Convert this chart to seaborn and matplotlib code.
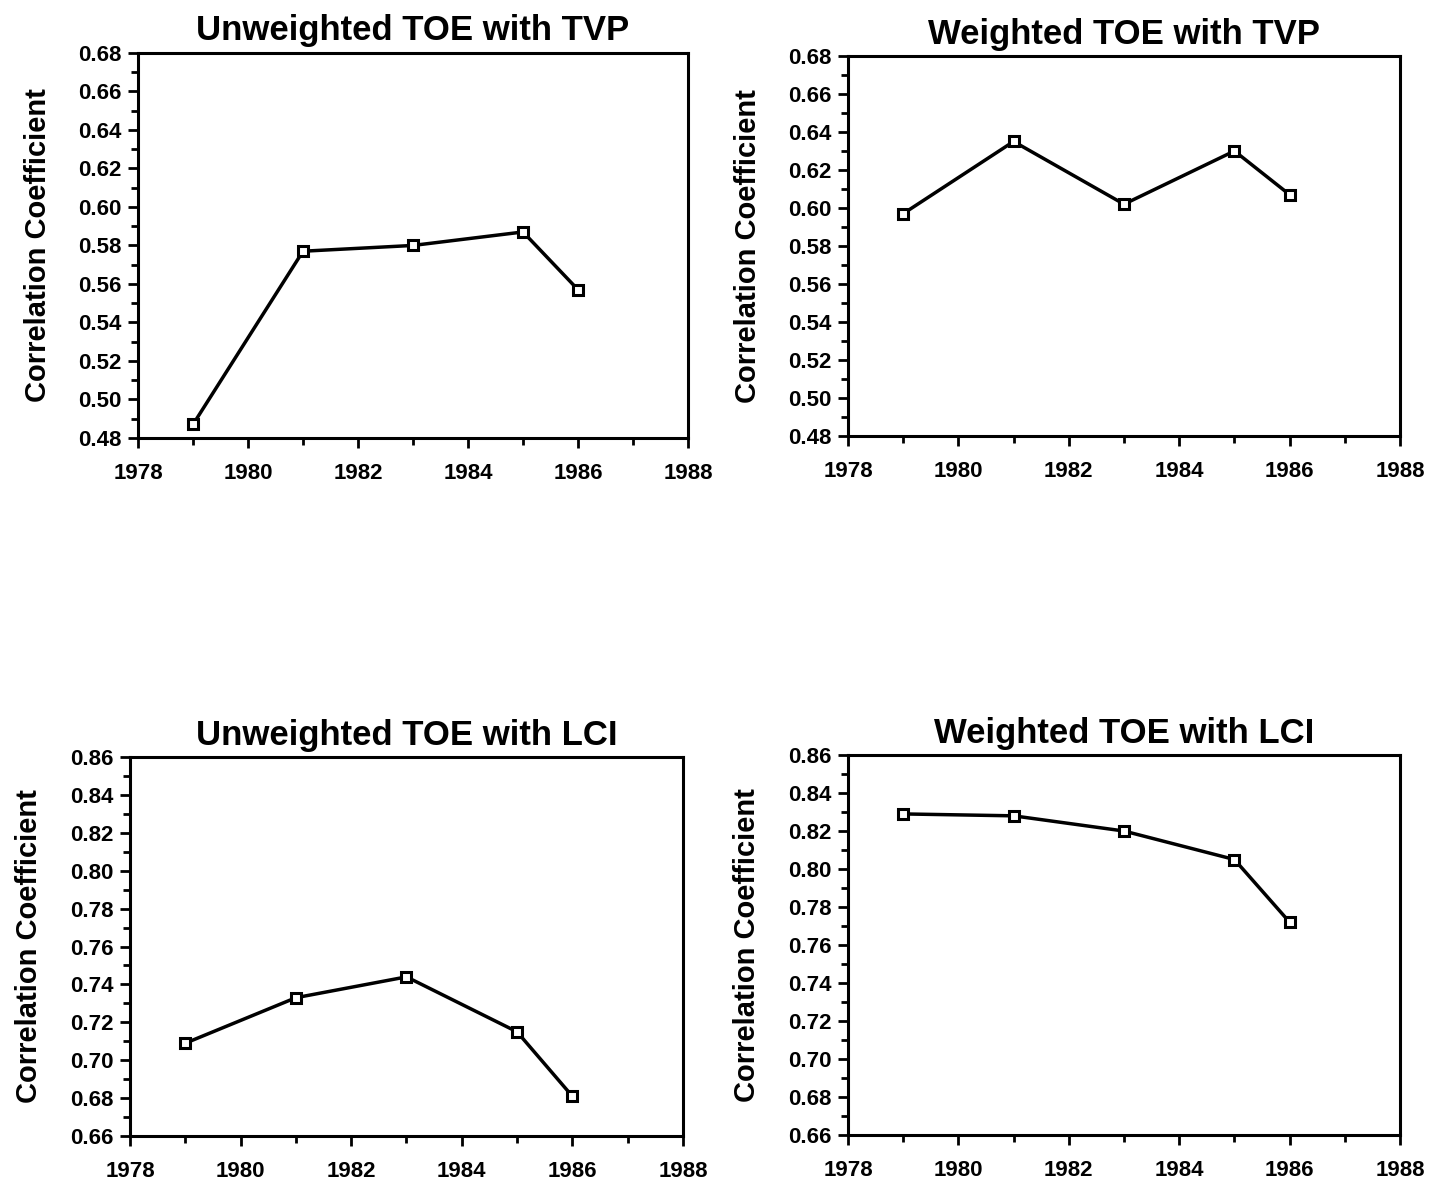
import matplotlib
matplotlib.use("Agg")
import matplotlib.pyplot as plt
from matplotlib.ticker import FormatStrFormatter, MultipleLocator
import numpy as np
import pandas as pd
import seaborn as sns

# Survey years shared by all four panels
years = [1979, 1981, 1983, 1985, 1986]

# Correlation coefficients per panel
unweighted_tvp = [0.487, 0.577, 0.580, 0.587, 0.557]
weighted_tvp = [0.597, 0.635, 0.602, 0.630, 0.607]
unweighted_lci = [0.709, 0.733, 0.744, 0.715, 0.681]
weighted_lci = [0.829, 0.828, 0.820, 0.805, 0.772]

titles = [
    "Unweighted TOE with TVP",
    "Weighted TOE with TVP",
    "Unweighted TOE with LCI",
    "Weighted TOE with LCI",
]
y_label = "Correlation Coefficient"

sns.set_style("ticks")
plt.rcParams["font.family"] = ["Liberation Sans", "DejaVu Sans"]
plt.rcParams["font.weight"] = "bold"
plt.rcParams["text.color"] = "black"
plt.rcParams["axes.labelcolor"] = "black"
plt.rcParams["xtick.color"] = "black"
plt.rcParams["ytick.color"] = "black"
plt.rcParams["axes.edgecolor"] = "black"

fig = plt.figure(figsize=(14.54, 11.84), dpi=100)

# Axes rectangles [left, bottom, width, height] in figure fractions
rects = [
    [0.0949, 0.6301, 0.3783, 0.3252],
    [0.5832, 0.6318, 0.3797, 0.3209],
    [0.0894, 0.0405, 0.3803, 0.3201],
    [0.5832, 0.0414, 0.3797, 0.3209],
]
series = [unweighted_tvp, weighted_tvp, unweighted_lci, weighted_lci]
ylims = [(0.48, 0.68), (0.48, 0.68), (0.66, 0.86), (0.66, 0.86)]

for rect, vals, title, ylim in zip(rects, series, titles, ylims):
    ax = fig.add_axes(rect)
    df = pd.DataFrame({"Year": years, "r": vals})
    sns.lineplot(
        data=df, x="Year", y="r", ax=ax, color="black", linewidth=2.5,
        marker="s", markersize=7.5, markerfacecolor="white",
        markeredgecolor="black", markeredgewidth=2.2,
    )
    ax.set_xlim(1978, 1988)
    ax.set_ylim(*ylim)
    ax.set_xticks(np.arange(1978, 1989, 2))
    ax.set_xticks(np.arange(1979, 1988, 2), minor=True)
    ax.yaxis.set_major_locator(MultipleLocator(0.02))
    ax.yaxis.set_minor_locator(MultipleLocator(0.01))
    ax.yaxis.set_major_formatter(FormatStrFormatter("%.2f"))
    ax.tick_params(axis="both", which="major", length=7, width=2,
                   labelsize=16, pad=5, direction="out", colors="black")
    ax.tick_params(axis="both", which="minor", length=5, width=2,
                   direction="out", colors="black")
    ax.tick_params(axis="x", which="major", pad=11)
    for lab in ax.get_xticklabels() + ax.get_yticklabels():
        lab.set_fontweight("bold")
    for sp in ax.spines.values():
        sp.set_visible(True)
        sp.set_linewidth(2.2)
        sp.set_color("black")
    ax.set_xlabel("")
    ax.set_ylabel(y_label, fontsize=21, fontweight="bold", labelpad=19,
                  color="black")
    ax.set_title(title, fontsize=25, fontweight="bold", pad=9, color="black")

fig.savefig("out.png", dpi=100, facecolor="white")
